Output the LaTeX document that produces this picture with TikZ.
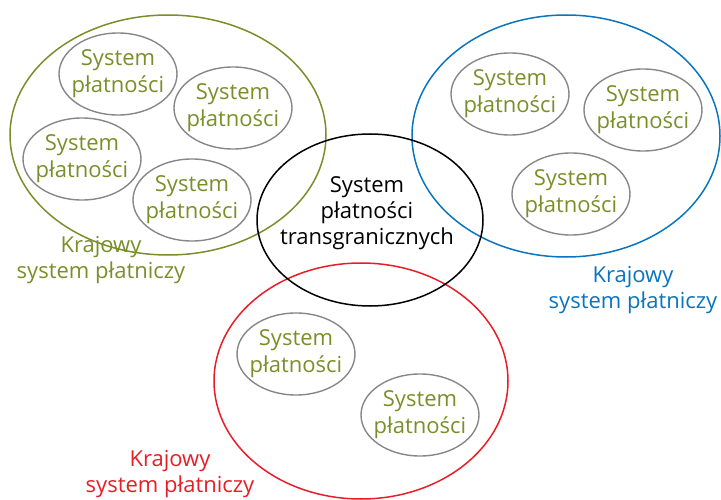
\documentclass[tikz,border=0pt]{standalone}
\usepackage{fontspec}
\setmainfont{Open Sans}
\definecolor{kgreen}{RGB}{122,142,42}
\definecolor{kblue}{RGB}{10,117,190}
\definecolor{kred}{RGB}{230,30,40}
\definecolor{kgray}{RGB}{135,135,135}
\begin{document}
\begin{tikzpicture}[x=1pt,y=-1pt,
  big/.style={line width=1.5pt},
  sys/.style={draw=kgray,line width=1.4pt},
  systxt/.style={text=kgreen,font=\fontsize{22}{27}\selectfont,align=center},
  lbl/.style={font=\fontsize{22}{26}\selectfont,align=center}]
\useasboundingbox (0,0) rectangle (721,500);
% big ellipses
\draw[big,draw=kgreen] (168,135) ellipse [x radius=158, y radius=120];
\draw[big,draw=kblue] (566,136) ellipse [x radius=154, y radius=121];
\draw[big,draw=kred] (361,381) ellipse [x radius=147, y radius=118];
\draw[big,draw=black] (370,220) ellipse [x radius=113, y radius=86];
% small ellipses
\foreach \n/\cx/\cy in {g1/118/74, g2/233/108, g3/82/159, g4/192/200,
                        b1/510/94, b2/643/110, b3/571/194,
                        r1/296/354, r2/420/415}{
  \draw[sys] (\cx,\cy) ellipse [x radius=59, y radius=41];
  \node[systxt] (\n) at (\cx,\cy) {System\\płatności};
}
\node[lbl] (cross) at (367,213) {System\\płatności\\transgranicznych};
\node[lbl,text=kgreen] (lg) at (101,260) {Krajowy\\system płatniczy};
\node[lbl,text=kblue] (lb) at (633,290) {Krajowy\\system płatniczy};
\node[lbl,text=kred] (lr) at (170,474) {Krajowy\\system płatniczy};
\end{tikzpicture}
\end{document}
